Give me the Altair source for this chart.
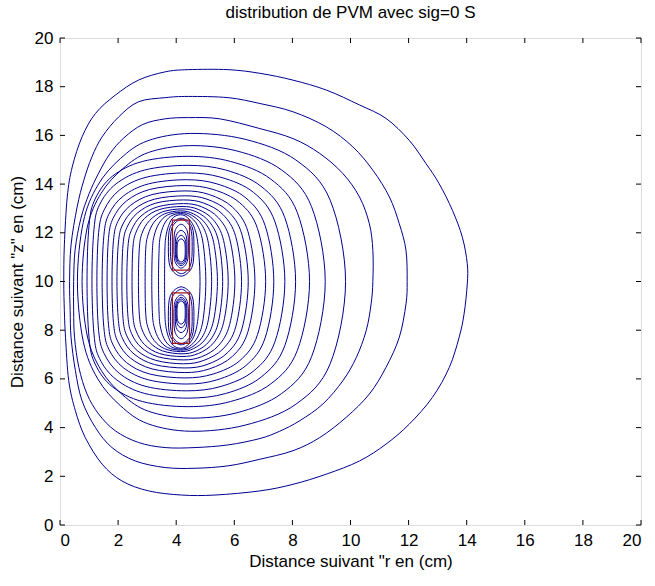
import altair as alt
import pandas as pd

chart_title = "distribution de PVM avec sig=0 S"
x_label = 'Distance suivant "r en (cm)'
y_label = 'Distance suivant "z" en (cm)'
tick_values = [0, 2, 4, 6, 8, 10, 12, 14, 16, 18, 20]

# contour lines enclosing both sources (outermost first): r and z coordinates
outer_r = [
    [0.13,0.15,0.25,0.42,0.76,1.22,1.90,2.70,3.62,4.42,5.79,6.88,8.02,9.17,10.31,11.22,12.02,12.60,13.05,13.51,13.85,14.02,14.02,13.91,13.74,13.40,12.82,12.02,11.22,10.31,9.17,8.02,6.88,5.33,4.19,3.05,2.13,1.45,0.87,0.53,0.30,0.19,0.15],
    [0.33,0.38,0.59,0.82,1.10,1.45,2.02,2.70,3.62,4.42,5.79,6.88,8.02,9.17,10.08,10.77,11.34,11.68,11.91,11.95,11.91,11.68,11.22,10.65,9.85,8.94,8.02,6.88,5.79,4.65,3.62,2.59,1.79,1.22,0.76,0.53,0.38,0.35],
    [0.47,0.52,0.72,1.00,1.33,1.72,2.20,2.85,3.62,4.42,5.50,6.88,8.02,8.94,9.74,10.31,10.65,10.77,10.77,10.71,10.54,10.20,9.74,9.05,8.25,7.56,6.88,5.79,4.65,3.62,2.70,1.90,1.33,0.93,0.65,0.50,0.47],
    [0.60,0.80,1.30,2.08,3.02,4.50,6.37,8.12,9.30,9.83,9.30,8.12,6.37,4.50,3.02,2.08,1.30,0.80],
    [0.76,0.94,1.42,2.16,3.05,4.45,6.09,7.63,8.66,9.13,8.66,7.63,6.09,4.45,3.05,2.16,1.42,0.94],
    [0.93,1.00,1.21,1.80,2.84,4.40,5.87,7.25,8.17,8.59,8.17,7.25,5.87,4.40,2.84,1.80,1.21,1.00],
    [1.10,1.17,1.36,1.93,2.92,4.40,5.70,6.92,7.74,8.11,7.74,6.92,5.70,4.40,2.92,1.93,1.36,1.17],
    [1.27,1.33,1.52,2.04,2.96,4.35,5.54,6.66,7.40,7.74,7.40,6.66,5.54,4.35,2.96,2.04,1.52,1.33],
    [1.45,1.51,1.68,2.18,3.05,4.35,5.40,6.40,7.06,7.36,7.06,6.40,5.40,4.35,3.05,2.18,1.68,1.51],
    [1.62,1.67,1.83,2.29,3.09,4.30,5.27,6.19,6.80,7.08,6.80,6.19,5.27,4.30,3.09,2.29,1.83,1.67],
    [1.79,1.84,1.99,2.42,3.17,4.30,5.14,5.94,6.47,6.71,6.47,5.94,5.14,4.30,3.17,2.42,1.99,1.84],
    [1.96,2.01,2.15,2.55,3.25,4.30,5.06,5.78,6.26,6.48,6.26,5.78,5.06,4.30,3.25,2.55,2.15,2.01],
    [2.13,2.17,2.30,2.66,3.30,4.25,4.95,5.61,6.05,6.25,6.05,5.61,4.95,4.25,3.30,2.66,2.30,2.17],
    [2.30,2.34,2.46,2.79,3.37,4.25,4.87,5.45,5.84,6.02,5.84,5.45,4.87,4.25,3.37,2.79,2.46,2.34],
    [2.48,2.51,2.62,2.91,3.43,4.20,4.76,5.28,5.63,5.79,5.63,5.28,4.76,4.20,3.43,2.91,2.62,2.51],
    [2.70,2.73,2.82,3.08,3.53,4.20,4.69,5.15,5.46,5.60,5.46,5.15,4.69,4.20,3.53,3.08,2.82,2.73],
    [2.93,2.95,3.03,3.24,3.60,4.15,4.59,5.01,5.29,5.42,5.29,5.01,4.59,4.15,3.60,3.24,3.03,2.95],
    [3.16,3.18,3.24,3.41,3.70,4.15,4.52,4.88,5.11,5.22,5.11,4.88,4.52,4.15,3.70,3.41,3.24,3.18],
    [3.39,3.41,3.45,3.58,3.81,4.15,4.45,4.74,4.93,5.02,4.93,4.74,4.45,4.15,3.81,3.58,3.45,3.41],
    [3.60,3.61,3.64,3.74,3.90,4.15,4.38,4.61,4.75,4.82,4.75,4.61,4.38,4.15,3.90,3.74,3.64,3.61],
]
outer_z = [
    [10.0,11.5,13.47,14.70,15.94,16.90,17.65,18.27,18.61,18.70,18.70,18.55,18.27,17.86,17.25,16.70,15.80,14.84,14.02,12.92,11.82,10.73,9.90,8.67,7.71,6.47,5.24,4.14,3.32,2.63,2.09,1.67,1.40,1.23,1.23,1.40,1.81,2.50,3.59,4.69,5.93,7.71,8.80],
    [10.0,11.5,13.06,14.16,15.12,15.94,16.76,17.38,17.55,17.60,17.55,17.31,16.97,16.35,15.53,14.57,13.47,12.37,11.28,10.0,9.08,7.71,6.47,5.38,4.42,3.59,3.05,2.70,2.43,2.33,2.36,2.63,3.18,4.00,5.10,6.34,7.71,8.80],
    [10.0,11.3,12.6,13.6,14.45,15.25,15.9,16.45,16.68,16.73,16.68,16.28,15.87,15.26,14.43,13.47,12.37,11.28,10.0,9.08,7.98,6.88,5.93,4.97,4.28,3.85,3.55,3.29,3.18,3.18,3.39,3.87,4.56,5.38,6.47,7.71,8.8],
    [10.0,12.43,13.95,15.05,15.78,16.08,15.84,14.99,13.34,10.0,6.62,4.96,4.10,3.85,4.16,4.90,6.00,7.54],
    [10.0,12.23,13.63,14.63,15.30,15.58,15.36,14.58,13.07,10.0,6.91,5.40,4.61,4.39,4.67,5.34,6.35,7.76],
    [10.0,12.31,13.39,14.32,14.93,15.14,14.93,14.21,12.83,10.0,7.17,5.79,5.07,4.86,5.07,5.68,6.61,7.69],
    [10.0,12.15,13.15,14.01,14.58,14.77,14.58,13.91,12.62,10.0,7.37,6.07,5.40,5.21,5.40,5.98,6.84,7.84],
    [10.0,12.01,12.94,13.75,14.28,14.46,14.28,13.66,12.45,10.0,7.53,6.32,5.69,5.51,5.69,6.23,7.04,7.98],
    [10.0,11.88,12.76,13.51,14.01,14.18,14.01,13.43,12.30,10.0,7.68,6.55,5.96,5.79,5.96,6.46,7.22,8.11],
    [10.0,11.77,12.60,13.31,13.78,13.94,13.78,13.23,12.17,10.0,7.82,6.75,6.20,6.04,6.20,6.67,7.39,8.22],
    [10.0,11.67,12.46,13.12,13.57,13.72,13.57,13.05,12.05,10.0,7.94,6.93,6.41,6.26,6.41,6.86,7.53,8.32],
    [10.0,11.58,12.32,12.96,13.38,13.52,13.38,12.89,11.94,10.0,8.05,7.09,6.59,6.45,6.59,7.02,7.66,8.40],
    [10.0,11.51,12.21,12.81,13.22,13.35,13.22,12.75,11.84,10.0,8.14,7.23,6.76,6.62,6.76,7.16,7.77,8.48],
    [10.0,11.44,12.11,12.69,13.07,13.20,13.07,12.62,11.76,10.0,8.23,7.36,6.91,6.78,6.91,7.30,7.87,8.55],
    [10.0,11.39,12.03,12.59,12.96,13.08,12.96,12.53,11.69,10.0,8.31,7.47,7.04,6.92,7.04,7.41,7.97,8.61],
    [10.0,11.34,11.97,12.50,12.86,12.98,12.86,12.44,11.64,10.0,8.37,7.56,7.15,7.03,7.15,7.51,8.04,8.66],
    [10.0,11.31,11.91,12.44,12.78,12.90,12.78,12.38,11.60,10.0,8.42,7.64,7.24,7.12,7.24,7.58,8.10,8.70],
    [10.0,11.28,11.87,12.39,12.73,12.84,12.73,12.33,11.56,10.0,8.45,7.69,7.29,7.18,7.29,7.63,8.14,8.73],
    [10.0,11.26,11.84,12.34,12.68,12.79,12.68,12.29,11.53,10.0,8.47,7.72,7.33,7.22,7.33,7.66,8.17,8.75],
    [10.0,11.23,11.81,12.30,12.63,12.74,12.63,12.25,11.51,10.0,8.49,7.75,7.37,7.26,7.37,7.70,8.19,8.77],
]

# closed loops around each of the two sources (upper source, then lower source)
loop_r = [
    [4.17,4.54,4.61,4.54,4.17,3.80,3.73,3.80],
    [4.18,4.49,4.55,4.49,4.18,3.86,3.80,3.86],
    [4.17,4.38,4.42,4.38,4.17,3.96,3.92,3.96],
    [4.17,4.34,4.37,4.34,4.17,4.00,3.97,4.00],
    [4.17,4.31,4.34,4.31,4.17,4.03,4.00,4.03],
    [4.17,4.29,4.31,4.29,4.17,4.05,4.03,4.05],
    [4.17,4.54,4.61,4.54,4.17,3.80,3.73,3.80],
    [4.18,4.49,4.55,4.49,4.18,3.86,3.80,3.86],
    [4.17,4.38,4.42,4.38,4.17,3.96,3.92,3.96],
    [4.17,4.34,4.37,4.34,4.17,4.00,3.97,4.00],
    [4.17,4.31,4.34,4.31,4.17,4.03,4.00,4.03],
    [4.17,4.29,4.31,4.29,4.17,4.05,4.03,4.05],
]
loop_z = [
    [12.60,12.26,11.43,10.58,10.22,10.58,11.43,12.26],
    [12.55,12.22,11.45,10.66,10.32,10.66,11.45,12.22],
    [12.35,12.08,11.45,10.82,10.55,10.82,11.45,12.08],
    [12.10,11.89,11.38,10.87,10.65,10.87,11.38,11.89],
    [11.90,11.72,11.31,10.90,10.72,10.90,11.31,11.72],
    [11.75,11.61,11.28,10.94,10.80,10.94,11.28,11.61],
    [7.40,7.74,8.57,9.42,9.78,9.42,8.57,7.74],
    [7.45,7.78,8.55,9.34,9.68,9.34,8.55,7.78],
    [7.65,7.92,8.55,9.18,9.45,9.18,8.55,7.92],
    [7.90,8.11,8.62,9.13,9.35,9.13,8.62,8.11],
    [8.10,8.28,8.69,9.10,9.28,9.10,8.69,8.28],
    [8.25,8.39,8.72,9.06,9.20,9.06,8.72,8.39],
]

# highest-level (red) contours hugging the two electrodes
rect_r = [
    [3.87,4.46,4.46,3.87],
    [3.87,4.46,4.46,3.87],
]
rect_z = [
    [12.52,12.52,10.47,10.47],
    [9.53,9.53,7.46,7.46],
]

navy_rows = []
cid = 0
for rs, zs in zip(outer_r + loop_r, outer_z + loop_z):
    for j, (r, z) in enumerate(zip(rs, zs)):
        navy_rows.append({"cid": cid, "k": j, "r": r, "z": z})
    cid += 1
navy_df = pd.DataFrame(navy_rows)

red_rows = []
for i, (rs, zs) in enumerate(zip(rect_r, rect_z)):
    for j, (r, z) in enumerate(zip(rs, zs)):
        red_rows.append({"cid": i, "k": j, "r": r, "z": z})
red_df = pd.DataFrame(red_rows)

tick_df = pd.DataFrame({"r": tick_values, "z": tick_values})

W, H = 581, 487
FONT = "Liberation Sans"
FS = 17
xs = alt.Scale(domain=[0, 20], nice=False, zero=False)
ys = alt.Scale(domain=[0, 20], nice=False, zero=False)

x_axis = alt.Axis(values=tick_values, title=x_label, grid=False, ticks=False, tickSize=0,
                  domain=False, labelPadding=7, titlePadding=5, labelFontSize=FS,
                  titleFontSize=FS, titleFontWeight="normal", format="d",
                  labelFont=FONT, titleFont=FONT, labelColor="black", titleColor="black")
y_axis = alt.Axis(values=tick_values, title=y_label, grid=False, ticks=False, tickSize=0,
                  domain=False, labelPadding=7, titlePadding=8, labelFontSize=FS,
                  titleFontSize=FS, titleFontWeight="normal", format="d",
                  labelFont=FONT, titleFont=FONT, labelColor="black", titleColor="black")

X = alt.X("r:Q", scale=xs, axis=x_axis)
Y = alt.Y("z:Q", scale=ys, axis=y_axis)

navy = alt.Chart(navy_df).mark_line(
    interpolate="cardinal-closed", color="#000090", strokeWidth=1
).encode(x=X, y=Y, detail="cid:N", order="k:Q")

red = alt.Chart(red_df).mark_line(
    interpolate="linear-closed", color="#A01818", strokeWidth=1.2
).encode(x=X, y=Y, detail="cid:N", order="k:Q")

tl = 5
bottom_ticks = alt.Chart(tick_df).mark_rule(color="black", strokeWidth=1).encode(
    x=X, y=alt.value(H), y2=alt.value(H - tl))
top_ticks = alt.Chart(tick_df).mark_rule(color="black", strokeWidth=1).encode(
    x=X, y=alt.value(0), y2=alt.value(tl))
left_ticks = alt.Chart(tick_df).mark_rule(color="black", strokeWidth=1).encode(
    y=Y, x=alt.value(0), x2=alt.value(tl))
right_ticks = alt.Chart(tick_df).mark_rule(color="black", strokeWidth=1).encode(
    y=Y, x=alt.value(W), x2=alt.value(W - tl))

chart = alt.layer(navy, red, bottom_ticks, top_ticks, left_ticks, right_ticks).properties(
    width=W,
    height=H,
    title=alt.TitleParams(chart_title, fontSize=FS, font=FONT, fontWeight="normal",
                          color="black", anchor="middle", offset=7),
    autosize=alt.AutoSizeParams(type="none"),
    padding={"left": 60, "top": 38, "right": 14, "bottom": 61},
).configure_view(
    stroke="black", strokeWidth=1
).configure(background="white")

chart.save("out.html", embed_options={"renderer": "svg", "actions": False})
